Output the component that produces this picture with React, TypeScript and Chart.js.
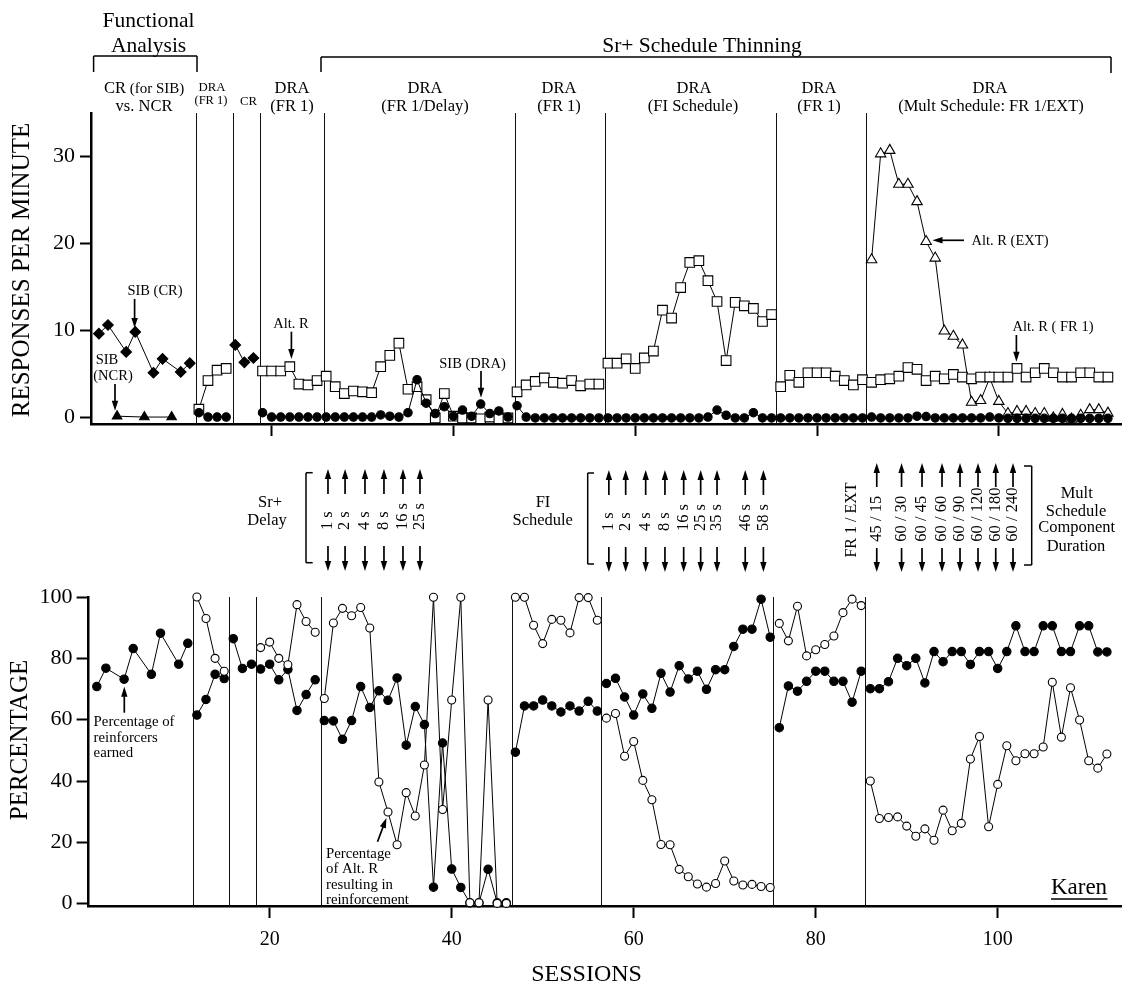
import { useEffect, useRef } from "react";
import { Chart, registerables } from "chart.js";

Chart.register(...registerables);

const SERIF = '"Liberation Serif", "Times New Roman", serif';

const span = (from: number, to: number) => {
  const out: number[] = [];
  for (let s = from; s <= to; s++) out.push(s);
  return out;
};

// sessions that open a new phase: lines are not joined across these
const phaseStarts = [12, 16, 19, 26, 47, 57, 76, 86];
const phaseLinesTop = [11.65, 15.74, 18.77, 25.76, 46.73, 56.63, 75.53, 85.36];
const phaseLinesBottom = [11.57, 15.53, 18.49, 25.64, 46.63, 56.41, 75.3, 85.37];

const sibCrSessions = [1, 2, 4, 5, 7, 8, 10, 11, 16, 17, 18];
const sibCrValues = [9.6, 10.6, 7.5, 9.8, 5.1, 6.7, 5.2, 6.2, 8.3, 6.3, 6.8];

const sibNcrSessions = [3, 6, 9];
const sibNcrValues = [0.1, 0, 0];

const draSessions = [...span(12, 15), ...span(19, 112)];
const altRValues = [
  0.9, 4.2, 5.4, 5.6,
  5.3, 5.3, 5.3, 5.8, 3.8, 3.7, 4.2,
  4.7, 3.5, 2.7, 3, 2.9, 2.8, 5.8, 7.1, 8.5, 3.2, 3.5, 2, -0.1, 2.7, 0.1, -0.1, -0.1, -0.2, 0, -0.2, -0.1,
  2.9, 3.7, 4.1, 4.5, 4, 3.9, 4.2, 3.6, 3.8, 3.8,
  6.2, 6.2, 6.7, 5.6, 6.8, 7.6, 12.3, 11.4, 14.9, 17.8, 18, 15.7, 13.3, 6.5, 13.2, 12.8, 12.5, 11, 11.8,
  3.5, 4.8, 4, 5.1, 5.1, 5.1, 4.7, 4.2, 3.7, 4.3,
  4, 4.3, 4.4, 4.7, 5.7, 5.5, 4.2, 4.7, 4.4, 4.9, 4.6, 4.4, 4.6, 4.6, 4.6, 4.6, 5.6, 4.6, 5.1, 5.6, 5.1, 4.6, 4.6, 5.1, 5.1, 4.6, 4.6,
];
const sibDraValues = [
  0.5, 0, 0, 0,
  0.5, 0, 0, 0, 0, 0, 0,
  0, 0, 0, 0, 0, 0, 0.25, 0.1, 0, 0.5, 4.3, 1.6, 0.4, 1.2, 0.1, 0.8, 0.1, 1.5, 0.4, 0.7, 0,
  1.3, 0, -0.1, -0.1, -0.1, -0.1, -0.1, -0.1, -0.1, -0.1,
  -0.1, -0.1, -0.1, -0.1, -0.1, -0.1, -0.1, -0.1, -0.1, -0.1, -0.1, 0, 0.8, 0.2, -0.1, -0.1, 0.5, -0.1, -0.1,
  -0.1, -0.1, -0.1, -0.1, -0.1, -0.1, -0.1, -0.1, -0.1, -0.1,
  0, -0.1, -0.1, -0.1, -0.1, 0.1, 0.05, -0.1, -0.1, -0.1, -0.1, -0.1, -0.1, 0, -0.1, -0.15, -0.15, -0.15, -0.15, -0.15, -0.15, -0.15, -0.15, -0.15, -0.15, -0.15, -0.15,
];

const extSessions = span(86, 112);
const altRExtValues = [
  18.1, 30.3, 30.7, 26.8, 26.8, 24.8, 20.2, 18.3, 9.9, 9.3, 8.3, 1.7, 1.9, 4.5, 1.8, 0.4, 0.65, 0.65, 0.4, 0.4, -0.1, 0.3, -0.25, 0.2, 0.85, 0.85, 0.45,
];

const earnedSessions = [1, 2, 4, 5, 7, 8, 10, 11, ...span(12, 112)];
const earnedValues = [
  70.8, 76.8, 73.2, 83.2, 74.8, 88.2, 78.1, 84.9,
  61.5, 66.6, 74.8, 73.4,
  86.4, 76.7, 78.1,
  76.5, 78.1, 73, 76.4, 63, 68.2, 73,
  59.7, 59.6, 53.6, 59.7, 70.8, 64, 69.4, 66.3, 73.6, 51.7, 64.3, 58.4, 5.4, 52.4, 11.3, 5.3, 0.3, 0.3, 11.2, 0.3, 0.3,
  49.4, 64.5, 64.5, 66.4, 64.5, 62.5, 64.5, 62.8, 66, 62.8,
  71.8, 73.5, 67.4, 61.5, 68.4, 63.7, 75.1, 69, 77.6, 73.3, 75.8, 69.9, 76.3, 76.3, 83.9, 89.5, 89.5, 99.3, 86.9,
  57.4, 71, 69.3, 72.5, 75.8, 75.8, 72.5, 72.5, 65.7, 75.8,
  70.1, 70.1, 72.4, 80, 77.6, 80, 72, 82.2, 78.9, 82.2, 82.2, 78, 82.2, 82.2, 76.7, 82.2, 90.6, 82.2, 82.2, 90.6, 90.6, 82.2, 82.2, 90.6, 90.6, 82.1, 82.1,
];
const reinforcedValues = [
  100, 93, 80, 75.8,
  83.5, 85.3, 80, 77.9, 97.5, 92, 88.5,
  66.9, 91.5, 96.3, 93.9, 96.6, 89.9, 39.7, 29.9, 19.2, 36.2, 28.6, 45.2, 99.9, 30.7, 66.4, 99.9, 0.3, 0.3, 66.4, 0.1, 0.1,
  99.9, 99.9, 90.8, 84.8, 92.7, 92.4, 88.3, 99.8, 99.8, 92.4,
  60.5, 62, 48.1, 52.9, 40.2, 33.9, 19.3, 19.2, 11.2, 8.8, 6.4, 5.4, 6.6, 13.9, 7.4, 6.1, 6.3, 5.6, 5.3,
  91.4, 85.7, 97, 80.8, 82.8, 84.5, 87.3, 94.9, 99.3, 97.2,
  40, 27.8, 28.1, 28.3, 25.3, 22, 24.4, 20.7, 30.5, 23.8, 26.2, 47.2, 54.5, 25.1, 38.9, 51.5, 46.6, 48.9, 48.9, 51.1, 72.2, 54.3, 70.4, 59.9, 46.6, 44.2, 48.8,
];

// schedule changes, placed on the top panel's session scale
const delayChanges = [26.2, 28.08, 30.27, 32.36, 34.45, 36.32];
const delayLabels = ["1 s", "2 s", "4 s", "8 s", "16 s", "25 s"];
const fiChanges = [57.1, 58.95, 61.15, 63.27, 65.33, 67.2, 69, 72.1, 74.1];
const fiLabels = ["1 s", "2 s", "4 s", "8 s", "16 s", "25 s", "35 s", "46 s", "58 s"];
const multChanges = [86.57, 89.3, 91.55, 93.75, 95.73, 97.71, 99.66, 101.56];
const multLabels = ["45 / 15", "60 / 30", "60 / 45", "60 / 60", "60 / 90", "60 / 120", "60 / 180", "60 / 240"];

// [text, centre x, centre y, font size]
const centredTexts: [string, number, number, number][] = [
  ["Functional", 148.6, 21, 21.5],
  ["Analysis", 148.6, 46, 21.5],
  ["Sr+ Schedule Thinning", 702, 46, 21.5],
  ["CR", 115, 89, 16.5],
  ["(for SIB)", 157, 89, 15],
  ["vs. NCR", 144, 107, 16.5],
  ["DRA", 212, 88, 12.8],
  ["(FR 1)", 211, 101, 12.5],
  ["CR", 248.6, 101.5, 12.8],
  ["DRA", 292, 89, 16.5],
  ["(FR 1)", 292, 107, 16.5],
  ["DRA", 425, 89, 16.5],
  ["(FR 1/Delay)", 425, 107, 16.5],
  ["DRA", 559, 89, 16.5],
  ["(FR 1)", 559, 107, 16.5],
  ["DRA", 694, 89, 16.5],
  ["(FI Schedule)", 693, 107, 16.5],
  ["DRA", 819, 89, 16.5],
  ["(FR 1)", 819, 107, 16.5],
  ["DRA", 990, 89, 16.5],
  ["(Mult Schedule: FR 1/EXT)", 991, 107, 16.5],
  ["SIB (CR)", 155, 291, 14.5],
  ["SIB", 107, 360.5, 14.5],
  ["(NCR)", 113, 376, 14.5],
  ["Alt. R", 291, 324, 14.5],
  ["SIB (DRA)", 472.5, 364, 14.5],
  ["Alt. R (EXT)", 1010, 241, 14.5],
  ["Alt. R ( FR 1)", 1053, 327, 14.5],
  ["Sr+", 270, 503, 16.5],
  ["Delay", 267, 521, 16.5],
  ["FI", 543, 503, 16.5],
  ["Schedule", 542.7, 521, 16.5],
  ["Mult", 1076.7, 494, 16.5],
  ["Schedule", 1076, 511.7, 16.5],
  ["Component", 1076.7, 528, 16.5],
  ["Duration", 1076, 546.7, 16.5],
  ["SESSIONS", 586.6, 975, 24],
  ["Karen", 1079, 888, 23],
];

// [text, left x, centre y]
const leftTexts: [string, number, number][] = [
  ["Percentage of", 93.6, 722],
  ["reinforcers", 93.6, 737.7],
  ["earned", 93.6, 753],
  ["Percentage", 326, 854],
  ["of Alt. R", 326, 869],
  ["resulting in", 326, 884.7],
  ["reinforcement", 326, 900],
];

// [x1, y1, x2, y2], head at the second point
const calloutArrows: [number, number, number, number][] = [
  [134.6, 299, 134.6, 328],
  [115, 384, 115, 410.7],
  [291.4, 331.7, 291.4, 359],
  [481, 371, 481, 397.7],
  [964, 240.3, 932.5, 240.3],
  [1016.4, 335, 1016.4, 361.7],
  [124.3, 712.7, 124.3, 686.7],
  [377.5, 841.7, 386.4, 818],
];

// [x1, y1, x2, y2] plain rule segments of the brackets
const rules: [number, number, number, number][] = [
  [93.6, 72, 93.6, 56],
  [93.6, 56, 197, 56],
  [197, 56, 197, 72],
  [321, 72, 321, 57],
  [321, 57, 1111, 57],
  [1111, 57, 1111, 73],
  [312.7, 472.7, 306, 472.7],
  [306, 472.7, 306, 562.7],
  [306, 562.7, 312.7, 562.7],
  [594, 473, 587.7, 473],
  [587.7, 473, 587.7, 564],
  [587.7, 564, 594, 564],
  [1024, 466, 1031.7, 466],
  [1031.7, 466, 1031.7, 565],
  [1031.7, 565, 1024, 565],
  [1051, 899, 1107.5, 899],
];

const points = (xs: number[], ys: number[]) => xs.map((x, i) => ({ x, y: ys[i] }));

const segment = {
  borderColor: (ctx: any) => (phaseStarts.includes(ctx.p1.parsed.x) ? "transparent" : "#000"),
};

function series(data: { x: number; y: number }[], pointStyle: string, radius: number, fill: string) {
  return {
    data,
    pointStyle,
    pointRadius: radius,
    pointBackgroundColor: fill,
    pointBorderColor: "#000",
    pointBorderWidth: 1.1,
    borderColor: "#000",
    borderWidth: 1,
    tension: 0,
    clip: false,
    segment,
  };
}

function drawArrow(ctx: CanvasRenderingContext2D, x1: number, y1: number, x2: number, y2: number) {
  const angle = Math.atan2(y2 - y1, x2 - x1);
  ctx.strokeStyle = "#000";
  ctx.fillStyle = "#000";
  ctx.lineWidth = 1.7;
  ctx.beginPath();
  ctx.moveTo(x1, y1);
  ctx.lineTo(x2 - 6 * Math.cos(angle), y2 - 6 * Math.sin(angle));
  ctx.stroke();
  ctx.beginPath();
  ctx.moveTo(x2, y2);
  ctx.lineTo(x2 - 10 * Math.cos(angle) - 3.2 * Math.sin(angle), y2 - 10 * Math.sin(angle) + 3.2 * Math.cos(angle));
  ctx.lineTo(x2 - 10 * Math.cos(angle) + 3.2 * Math.sin(angle), y2 - 10 * Math.sin(angle) - 3.2 * Math.cos(angle));
  ctx.closePath();
  ctx.fill();
}

function drawRotated(ctx: CanvasRenderingContext2D, text: string, x: number, y: number, size: number, align: CanvasTextAlign) {
  ctx.save();
  ctx.translate(x, y);
  ctx.rotate(-Math.PI / 2);
  ctx.font = `${size}px ${SERIF}`;
  ctx.textAlign = align;
  ctx.textBaseline = "middle";
  ctx.fillStyle = "#000";
  ctx.fillText(text, 0, 0);
  ctx.restore();
}

const phaseLinePlugin = (lines: number[]) => ({
  id: "phaseLines",
  beforeDatasetsDraw(chart: any) {
    const { ctx, chartArea, scales } = chart;
    ctx.save();
    ctx.strokeStyle = "#111";
    ctx.lineWidth = 1;
    lines.forEach((s) => {
      const x = Math.round(scales.x.getPixelForValue(s)) + 0.5;
      ctx.beginPath();
      ctx.moveTo(x, chartArea.top);
      ctx.lineTo(x, chartArea.bottom);
      ctx.stroke();
    });
    ctx.restore();
  },
});

const annotationPlugin = {
  id: "annotations",
  afterDraw(chart: any) {
    const { ctx, scales } = chart;
    ctx.save();
    ctx.fillStyle = "#000";
    ctx.textBaseline = "middle";

    ctx.textAlign = "center";
    centredTexts.forEach(([text, x, y, size]) => {
      ctx.font = `${size}px ${SERIF}`;
      ctx.fillText(text, x, y);
    });
    ctx.textAlign = "left";
    ctx.font = `14.8px ${SERIF}`;
    leftTexts.forEach(([text, x, y]) => ctx.fillText(text, x, y));

    drawRotated(ctx, "RESPONSES PER MINUTE", 22.5, 270, 25, "center");
    drawRotated(ctx, "PERCENTAGE", 20.5, 740, 25, "center");
    drawRotated(ctx, "FR 1 / EXT", 851.7, 520, 16, "center");

    ctx.strokeStyle = "#000";
    ctx.lineWidth = 1.5;
    rules.forEach(([x1, y1, x2, y2]) => {
      ctx.beginPath();
      ctx.moveTo(x1, y1);
      ctx.lineTo(x2, y2);
      ctx.stroke();
    });

    calloutArrows.forEach(([x1, y1, x2, y2]) => drawArrow(ctx, x1, y1, x2, y2));

    const px = (s: number) => scales.x.getPixelForValue(s);
    delayChanges.forEach((s, i) => {
      drawArrow(ctx, px(s), 494, px(s), 469);
      drawArrow(ctx, px(s), 546, px(s), 571);
      drawRotated(ctx, delayLabels[i], px(s), 530, 16.5, "left");
    });
    fiChanges.forEach((s, i) => {
      drawArrow(ctx, px(s), 495, px(s), 470);
      drawArrow(ctx, px(s), 547, px(s), 572);
      drawRotated(ctx, fiLabels[i], px(s), 531, 16.5, "left");
    });
    multChanges.forEach((s, i) => {
      drawArrow(ctx, px(s), 487, px(s), 463);
      drawArrow(ctx, px(s), 548, px(s), 572);
      drawRotated(ctx, multLabels[i], px(s), 541.7, 16.5, "left");
    });
    ctx.restore();
  },
};

const axisColors = {
  border: { display: true, color: "#000", width: 2.5 },
};

export default function App() {
  const topRef = useRef<HTMLCanvasElement>(null);
  const bottomRef = useRef<HTMLCanvasElement>(null);

  useEffect(() => {
    if (!topRef.current || !bottomRef.current) return;

    const top = new Chart(topRef.current, {
      type: "line",
      data: {
        datasets: [
          series(points(sibCrSessions, sibCrValues), "rectRot", 5.3, "#000"),
          series(points(sibNcrSessions, sibNcrValues), "triangle", 5.5, "#000"),
          series(points(draSessions, sibDraValues), "circle", 4.2, "#000"),
          series(points(draSessions, altRValues), "rect", 6.8, "#fff"),
          series(points(extSessions, altRExtValues), "triangle", 6, "#fff"),
        ],
      },
      options: {
        animation: false,
        responsive: false,
        devicePixelRatio: 1,
        layout: { autoPadding: false, padding: { top: 113, left: 0, right: 0, bottom: 0 } },
        plugins: { legend: { display: false }, tooltip: { enabled: false } },
        scales: {
          x: {
            type: "linear",
            min: 0.13,
            max: 113.55,
            afterFit: (s: any) => { s.height = 987 - 424; },
            ticks: { stepSize: 20, includeBounds: false, display: false },
            grid: { drawOnChartArea: false, tickLength: 12, tickWidth: 2, tickColor: "#000" },
            ...axisColors,
          },
          y: {
            min: -0.8,
            max: 35,
            afterFit: (s: any) => { s.width = 91; },
            ticks: {
              stepSize: 10,
              includeBounds: false,
              color: "#000",
              padding: 5,
              font: { family: SERIF, size: 22 },
            },
            grid: { drawOnChartArea: false, tickLength: 11, tickWidth: 2, tickColor: "#000" },
            ...axisColors,
          },
        },
      },
      plugins: [phaseLinePlugin(phaseLinesTop), annotationPlugin],
    } as any);

    const bottom = new Chart(bottomRef.current, {
      type: "line",
      data: {
        datasets: [
          series(points(draSessions, reinforcedValues), "circle", 4, "#fff"),
          series(points(earnedSessions, earnedValues), "circle", 4.2, "#000"),
        ],
      },
      options: {
        animation: false,
        responsive: false,
        devicePixelRatio: 1,
        layout: { autoPadding: false, padding: { top: 597, left: 0, right: 0, bottom: 0 } },
        plugins: { legend: { display: false }, tooltip: { enabled: false } },
        scales: {
          x: {
            type: "linear",
            min: 0.1,
            max: 113.66,
            afterFit: (s: any) => { s.height = 987 - 906; },
            ticks: {
              stepSize: 20,
              includeBounds: false,
              color: "#000",
              padding: 10,
              maxRotation: 0,
              font: { family: SERIF, size: 20 },
            },
            grid: { drawOnChartArea: false, tickLength: 12, tickWidth: 2, tickColor: "#000" },
            ...axisColors,
          },
          y: {
            min: -0.75,
            max: 100,
            afterFit: (s: any) => { s.width = 88.6; },
            ticks: {
              stepSize: 20,
              includeBounds: false,
              color: "#000",
              padding: 4,
              font: { family: SERIF, size: 22 },
            },
            grid: { drawOnChartArea: false, tickLength: 12, tickWidth: 2, tickColor: "#000" },
            ...axisColors,
          },
        },
      },
      plugins: [phaseLinePlugin(phaseLinesBottom)],
    } as any);

    return () => {
      top.destroy();
      bottom.destroy();
    };
  }, []);

  const layer: React.CSSProperties = { position: "absolute", left: 0, top: 0, display: "block" };
  return (
    <div style={{ position: "absolute", left: 0, top: 0, width: 1122, height: 987, background: "#fff" }}>
      <canvas ref={topRef} width={1122} height={987} style={layer} />
      <canvas ref={bottomRef} width={1122} height={987} style={layer} />
    </div>
  );
}
